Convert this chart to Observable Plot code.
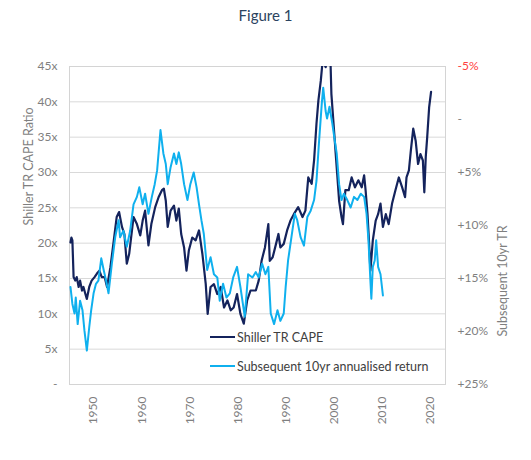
<!DOCTYPE html>
<html><head><meta charset="utf-8">
<script src="https://cdn.jsdelivr.net/npm/d3@7"></script>
<script src="https://cdn.jsdelivr.net/npm/@observablehq/plot@0.6"></script>
<style>
body{margin:0;background:#fff;font-family:Lato,"Open Sans",sans-serif;}
#wrap{position:relative;width:531px;height:460px;overflow:hidden;}
#title{position:absolute;top:6px;left:0px;width:531px;text-align:center;font-size:15px;color:#2b4360;}
#chart{position:absolute;top:40px;left:0;}
.leg{position:absolute;left:210px;height:16px;display:flex;align-items:center;font-size:12.5px;color:#404040;white-space:nowrap;}
.sw{width:25px;height:0;border-top:2px solid;margin-right:2px;}
</style></head><body>
<div id="wrap">
  <div id="title">Figure 1</div>
  <div id="chart"></div>
  <div class="leg" style="top:329px"><span class="sw" style="border-color:#14235c"></span><span id="l1"></span></div>
  <div class="leg" style="top:358px"><span class="sw" style="border-color:#0fb0ee"></span><span id="l2"></span></div>
</div>
<script>
const seriesNames = ["Shiller TR CAPE", "Subsequent 10yr annualised return"];
const yTicksLeft = [0,5,10,15,20,25,30,35,40,45];
const yTicksRight = [-5,0,5,10,15,20,25];
const xTicks = [1950,1960,1970,1980,1990,2000,2010,2020];

const capeYears = [1945.2,1945.4,1945.6,1945.85,1946.2,1946.5,1946.9,1947.2,1947.6,1947.9,1948.3,1948.6,1949.1,1949.6,1950.2,1950.7,1951.2,1951.7,1952.3,1952.8,1953.5,1954.2,1954.8,1955.3,1955.9,1956.4,1956.9,1957.4,1958.3,1959.0,1959.7,1960.2,1960.7,1961.4,1962.0,1962.8,1963.5,1964.2,1964.6,1965.0,1965.4,1966.0,1966.7,1967.2,1967.7,1968.2,1968.8,1969.3,1969.8,1970.5,1971.2,1971.9,1972.6,1973.3,1973.7,1974.3,1975.0,1975.7,1976.4,1977.1,1977.8,1978.5,1979.1,1979.8,1980.5,1981.2,1981.9,1982.6,1983.7,1984.3,1984.9,1985.6,1986.3,1986.6,1987.2,1987.9,1988.4,1988.8,1989.5,1990.2,1990.9,1991.6,1992.5,1993.4,1994.0,1994.6,1995.3,1995.8,1996.3,1996.7,1997.2,1997.6,1998.2,1998.5,1999.2,1999.4,1999.9,2000.3,2000.6,2001.0,2001.5,2001.8,2002.3,2003.0,2003.6,2004.3,2005.0,2005.7,2006.2,2006.5,2006.9,2007.2,2007.5,2008.0,2008.6,2009.1,2009.6,2010.1,2010.7,2011.3,2012.0,2012.7,2013.4,2014.1,2014.7,2015.0,2015.5,2015.9,2016.4,2016.9,2017.4,2017.9,2018.4,2018.7,2019.0,2019.3,2019.7,2020.1];
const capeValues = [20.1,20.8,20.4,15.2,14.7,15.2,13.8,14.7,13.3,13.8,12.8,12.1,13.8,14.7,15.2,15.7,16.1,15.2,15.2,13.8,16.6,20.4,23.7,24.4,22.3,21.3,17.1,18.5,23.7,22.7,21.1,23.2,24.6,19.7,22.7,25.1,26.5,27.5,27.7,26.0,22.3,24.6,25.3,23.2,24.9,21.3,19.4,16.1,19.0,20.8,20.4,21.8,18.5,14.2,10.0,13.8,14.2,12.8,13.8,10.9,11.9,10.5,10.9,12.8,10.0,8.6,11.9,13.3,13.3,14.7,17.5,19.4,22.7,17.5,18.0,19.9,21.3,19.4,19.9,21.8,23.2,24.1,25.1,23.7,24.6,29.3,28.4,31.7,36.9,40.2,43.0,46.0,44.9,46.0,46.0,41.1,36.4,32.6,29.8,26.0,23.7,22.7,27.5,27.5,29.3,27.9,28.9,27.9,29.6,27.5,24.1,20.4,16.1,20.4,23.2,24.1,25.6,22.3,24.1,22.7,25.6,27.5,29.3,27.9,26.5,29.3,30.3,33.1,36.2,34.5,31.2,32.6,31.7,27.2,32.2,35.0,39.2,41.4];

const retYears = [1945.2,1945.6,1946.05,1946.3,1946.7,1947.2,1947.7,1948.1,1948.6,1949.1,1949.5,1950.0,1950.5,1951.0,1951.6,1952.1,1952.6,1953.1,1953.8,1954.5,1955.2,1955.5,1956.2,1956.9,1957.6,1958.3,1959.0,1959.5,1960.2,1960.7,1961.4,1962.1,1962.7,1963.2,1963.9,1964.5,1965.0,1965.4,1966.0,1966.7,1967.2,1967.7,1968.2,1968.8,1969.5,1970.1,1970.8,1971.4,1971.9,1972.4,1972.9,1973.6,1974.3,1975.0,1975.7,1976.2,1976.9,1977.6,1978.3,1979.0,1979.8,1980.5,1981.4,1982.1,1983.0,1983.7,1984.3,1985.0,1985.7,1986.3,1986.8,1987.5,1988.2,1988.8,1989.5,1989.9,1990.4,1991.1,1991.8,1992.3,1993.0,1993.7,1994.4,1995.1,1995.8,1996.3,1996.8,1997.4,1997.7,1998.2,1998.5,1999.0,1999.6,2000.1,2000.5,2001.0,2001.5,2002.0,2002.7,2003.4,2004.1,2004.8,2005.5,2006.2,2006.7,2007.1,2007.5,2007.7,2008.0,2008.4,2008.7,2009.1,2009.6,2010.1];
const retValues = [15.8,17.4,18.3,16.8,19.3,17.1,18.0,19.9,21.8,19.6,18.0,16.4,15.5,15.2,13.1,14.2,15.2,16.4,13.6,11.1,9.5,11.1,10.5,12.0,10.5,8.0,7.3,6.4,8.0,7.0,8.9,7.3,6.1,4.8,1.0,3.2,4.2,6.1,4.5,3.2,4.2,3.1,4.2,6.1,7.6,6.1,5.0,6.4,8.0,9.5,10.8,14.2,13.0,14.6,14.9,17.1,15.5,16.8,16.4,14.9,13.9,15.8,18.6,14.6,14.9,14.4,14.9,13.6,14.6,13.9,18.3,19.3,18.0,19.0,18.3,15.8,13.3,11.1,8.9,9.5,11.1,11.9,9.2,8.6,7.6,5.8,2.3,-1.5,-3.0,-0.8,-0.1,-1.2,0.4,2.0,3.2,6.1,7.6,7.0,7.6,8.3,7.3,7.6,7.0,7.3,8.9,11.4,15.2,16.9,13.9,13.3,11.4,13.9,14.6,16.6];

// secondary (inverted) axis: -5% at top (45x), +25% at bottom (0x)
const toLeft = r => 37.5 - 1.5 * r;
const fromLeft = v => Math.round((37.5 - v) / 1.5);
const fmtRet = r => r === 0 ? "-" : (r > 0 ? "+" + r + "%" : r + "%");

const capeData = capeYears.map((t, i) => ({t, v: capeValues[i]}));
const retData = retYears.map((t, i) => ({t, v: toLeft(retValues[i])}));

document.getElementById("l1").textContent = seriesNames[0];
document.getElementById("l2").textContent = seriesNames[1];

const gray = "#7f7f7f";
const chart = Plot.plot({
  width: 531, height: 420,
  marginTop: 26, marginBottom: 76, marginLeft: 69, marginRight: 86,
  style: {fontFamily: "Lato, 'Open Sans', sans-serif", fontSize: "12px", color: gray, background: "white"},
  x: {domain: [1945, 2023.1]},
  y: {domain: [0, 45]},
  marks: [
    Plot.gridY({ticks: yTicksLeft, stroke: "#d9d9d9", strokeOpacity: 1}),
    Plot.frame({stroke: "#d4d4d4"}),
    Plot.axisY({ticks: yTicksLeft, anchor: "left", tickSize: 0, tickPadding: 12, tickFormat: d => d === 0 ? "-" : d + "x", label: null, fill: gray}),
    Plot.axisY({ticks: yTicksRight.filter(r => r !== -5).map(toLeft), anchor: "right", tickSize: 0, tickPadding: 12, tickFormat: v => fmtRet(fromLeft(v)), label: null, fill: gray}),
    Plot.axisY({ticks: [toLeft(-5)], anchor: "right", tickSize: 0, tickPadding: 12, tickFormat: v => fmtRet(fromLeft(v)), label: null, fill: "#ff4040"}),
    Plot.axisX({ticks: xTicks, anchor: "bottom", tickSize: 0, tickPadding: 12, tickRotate: -90, tickFormat: d => String(d), label: null, fill: gray}),
    Plot.text(["Shiller TR CAPE Ratio"], {text: d => d, frameAnchor: "left", rotate: -90, dx: -41, fill: gray, fontSize: 12.5}),
    Plot.text(["Subsequent 10yr TR"], {text: d => d, frameAnchor: "right", rotate: -90, dx: 57, fill: gray, fontSize: 12.5}),
    Plot.lineY(capeData, {x: "t", y: "v", stroke: "#14235c", strokeWidth: 2.2, clip: true}),
    Plot.lineY(retData, {x: "t", y: "v", stroke: "#0fb0ee", strokeWidth: 2, clip: true})
  ]
});
document.getElementById("chart").appendChild(chart);
</script>
</body></html>
